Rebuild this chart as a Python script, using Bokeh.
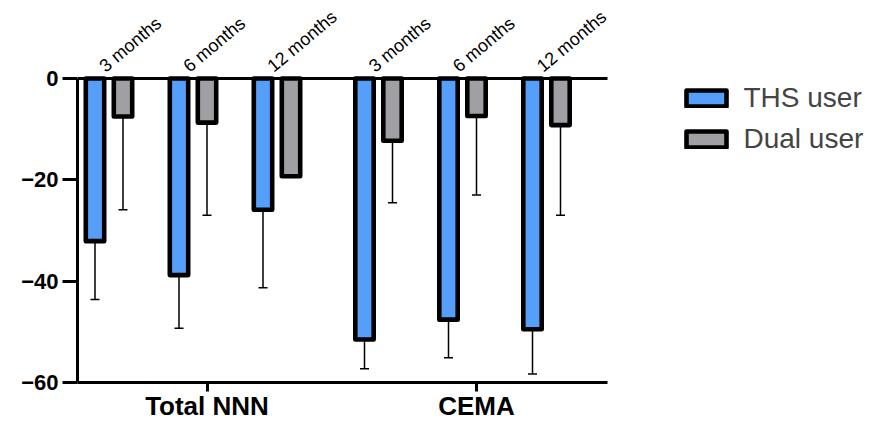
import math
from bokeh.plotting import figure
from bokeh.models import (Range1d, FixedTicker, ColumnDataSource, Whisker, TeeHead,
                          Legend, LegendItem)
from bokeh.core.properties import value
from bokeh.embed import file_html
from bokeh.resources import INLINE

# ---------------- data ----------------
groups = ["Total NNN", "CEMA"]
months = ["3 months", "6 months", "12 months"]
ths_mean = [-32.1, -38.8, -25.9, -51.5, -47.6, -49.5]
ths_err = [11.5, 10.5, 15.4, 5.8, 7.5, 8.8]
dual_mean = [-7.5, -8.7, -19.3, -12.3, -7.4, -9.2]
dual_err = [18.4, 18.3, float("nan"), 12.2, 15.6, 17.8]
y_ticks = [0, -20, -40, -60]

# ---------------- layout constants ----------------
UNIT = 28.0                 # px per x unit
group_start = [0.625, 10.25]
month_step = 3.0
dual_offset = 1.0
tick_offset = 4.0
bar_w = 0.657
FONT = "Liberation Sans"
BLUE = "#559ffa"
GRAY = "#a0a0a4"

W, H = 892, 423
LEFT, TOP, BOTTOM = 77, 2, 41
frame_w = W - LEFT
axis_end = 530 / UNIT

x_ths, x_dual, mlabels, mx = [], [], [], []
for gi, g in enumerate(groups):
    for mi, m in enumerate(months):
        xt = group_start[gi] + mi * month_step
        x_ths.append(xt)
        x_dual.append(xt + dual_offset)
        mlabels.append(m)
        mx.append(xt + 0.25)

p = figure(width=W, height=H, output_backend="svg", toolbar_location=None,
           x_range=Range1d(0, frame_w / UNIT), y_range=Range1d(-60, 15),
           min_border_left=LEFT, min_border_right=0, min_border_top=TOP,
           min_border_bottom=BOTTOM)
p.outline_line_color = None
p.xgrid.grid_line_color = None
p.ygrid.grid_line_color = None
p.background_fill_color = "white"

# error bars (lower only)
def whisk(xs, means, errs):
    xx, up, lo = [], [], []
    for x, m, e in zip(xs, means, errs):
        if e == e:
            xx.append(x); up.append(m); lo.append(m - e)
    src = ColumnDataSource(dict(x=xx, upper=up, lower=lo))
    w = Whisker(source=src, base="x", upper="upper", lower="lower", dimension="height",
                line_color="black", line_width=1.5, upper_head=None,
                lower_head=TeeHead(size=9, line_color="black", line_width=1.5),
                level="underlay")
    p.add_layout(w)

whisk(x_ths, ths_mean, ths_err)
whisk(x_dual, dual_mean, dual_err)

src_t = ColumnDataSource(dict(x=x_ths, top=[0] * len(x_ths), bottom=ths_mean))
src_d = ColumnDataSource(dict(x=x_dual, top=[0] * len(x_dual), bottom=dual_mean))
r_t = p.vbar(x="x", top="top", bottom="bottom", width=bar_w, source=src_t,
             fill_color=BLUE, line_color="black", line_width=4.6, line_join="round")
r_d = p.vbar(x="x", top="top", bottom="bottom", width=bar_w, source=src_d,
             fill_color=GRAY, line_color="black", line_width=4.6, line_join="round")

# zero line
p.segment(x0=[0], y0=[0], x1=[axis_end], y1=[0], line_color="black", line_width=3)

# month labels
ms = ColumnDataSource(dict(x=mx, y=[2.0] * len(mx), t=mlabels))
p.text(x="x", y="y", text="t", source=ms, angle=math.radians(40),
       text_align="left", text_baseline="alphabetic", text_font=value(FONT),
       text_font_size="18px", text_color="black")

# axes
xa = p.xaxis[0]
group_ticks = [group_start[0] + tick_offset, group_start[1] + tick_offset]
xa.ticker = FixedTicker(ticks=group_ticks)
xa.major_label_overrides = {group_ticks[0]: groups[0], group_ticks[1]: groups[1]}
xa.bounds = (0, axis_end)
xa.axis_line_width = 3
xa.major_tick_line_width = 3
xa.major_tick_out = 9
xa.major_tick_in = 0
xa.minor_tick_line_color = None
xa.major_label_standoff = -1
xa.major_label_text_font = FONT
xa.major_label_text_font_style = "bold"
xa.major_label_text_font_size = "26px"
xa.major_label_text_color = "black"

ya = p.yaxis[0]
ya.ticker = FixedTicker(ticks=y_ticks)
ya.bounds = (-60, 0)
ya.axis_line_width = 3
ya.major_tick_line_width = 3
ya.major_tick_out = 15
ya.major_tick_in = 0
ya.minor_tick_line_color = None
ya.major_label_standoff = 4
ya.major_label_text_font = FONT
ya.major_label_text_font_style = "bold"
ya.major_label_text_font_size = "22px"
ya.major_label_text_color = "black"

legend = Legend(items=[LegendItem(label="THS user", renderers=[r_t]),
                       LegendItem(label="Dual user", renderers=[r_d])],
                location=(603.5, 227), glyph_width=50, glyph_height=20,
                label_standoff=13, spacing=9, padding=0, margin=0,
                label_text_font=FONT, label_text_font_size="28px",
                border_line_alpha=0, background_fill_alpha=0)
p.add_layout(legend)

open("out.html", "w").write(file_html(p, INLINE))
